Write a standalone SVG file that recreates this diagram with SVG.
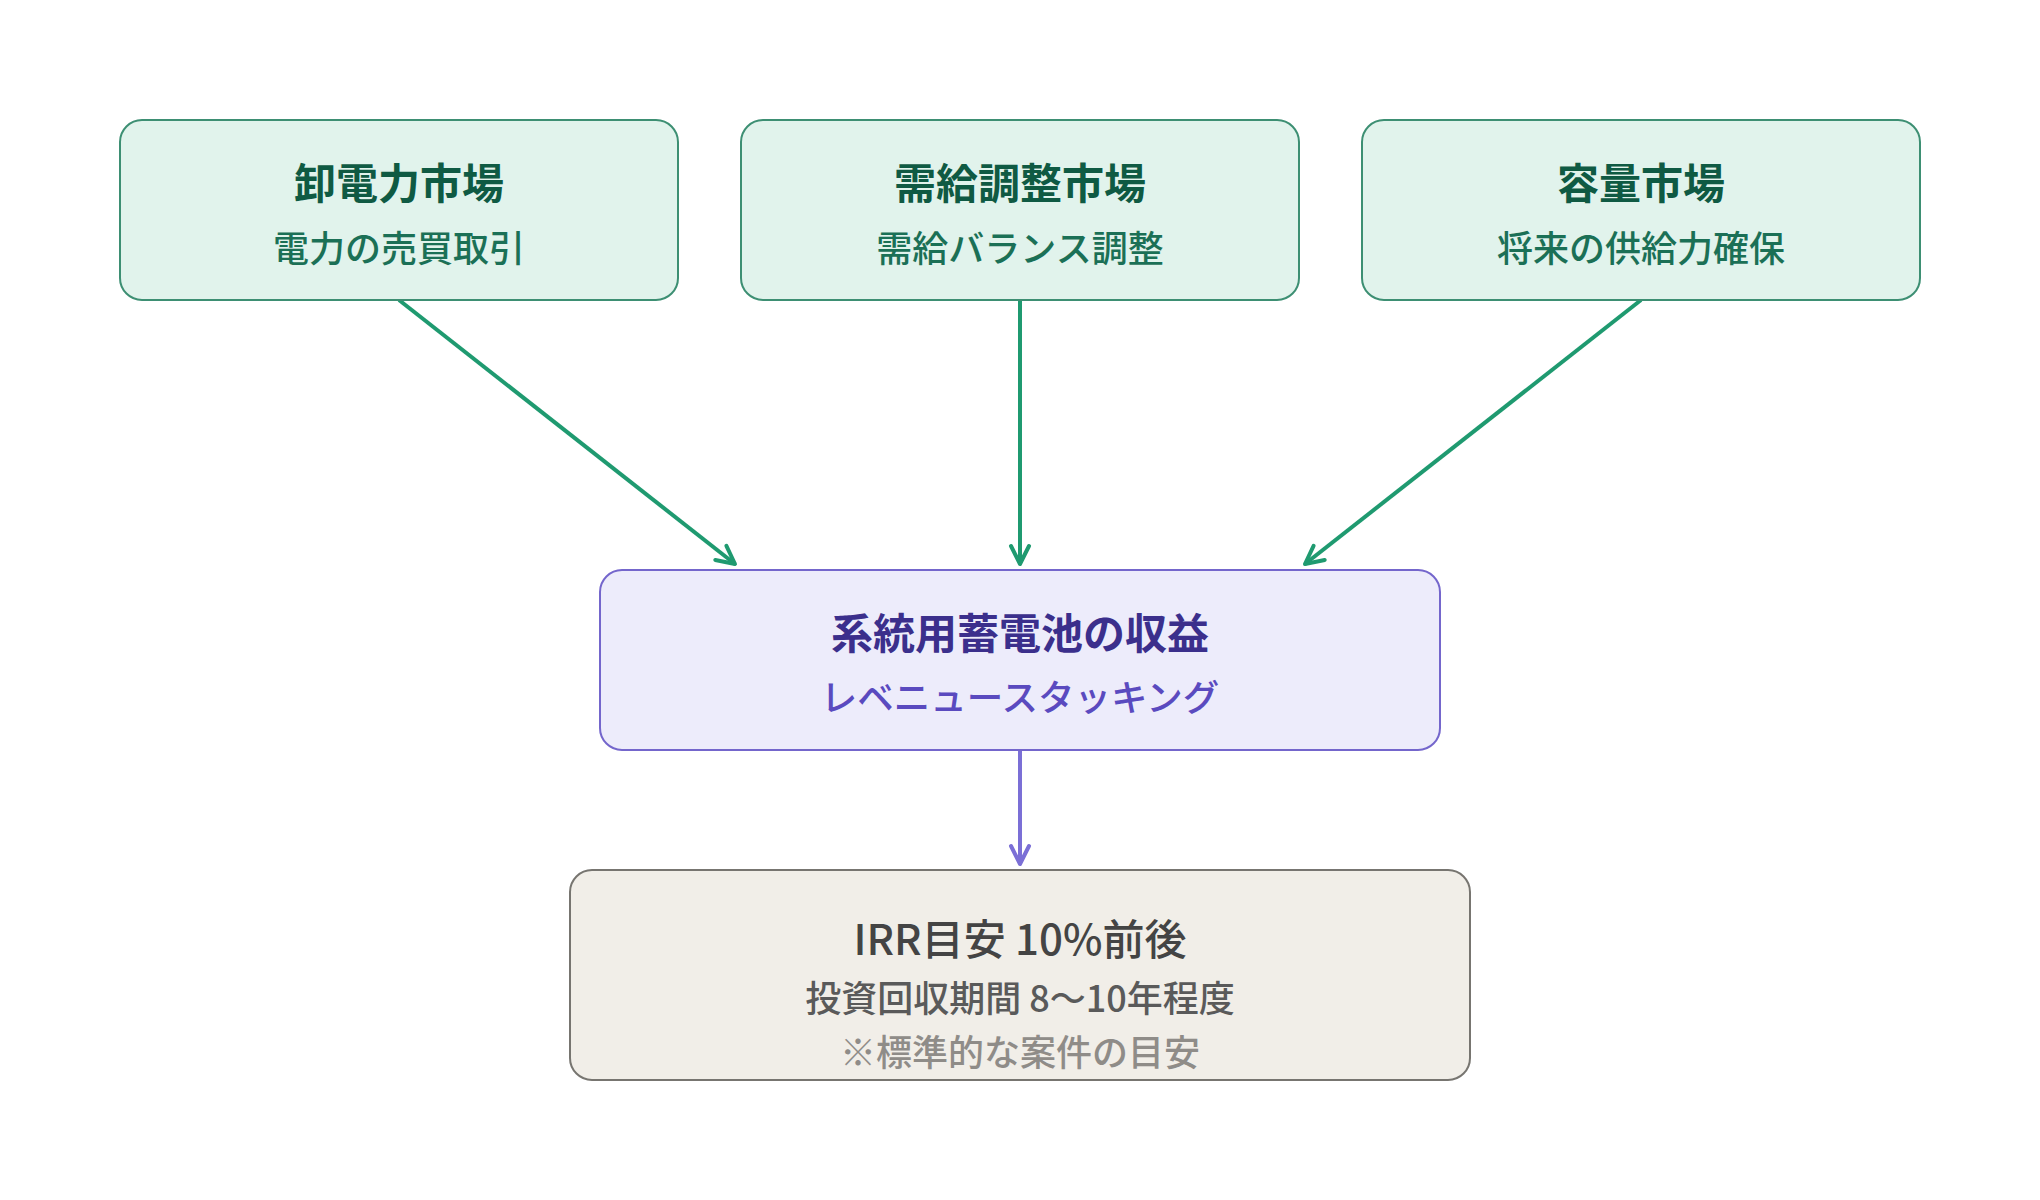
<svg xmlns="http://www.w3.org/2000/svg" width="2040" height="1200" viewBox="0 0 2040 1200">
<style>
text{font-family:"Noto Sans CJK JP","Noto Sans",sans-serif;text-anchor:middle;dominant-baseline:central}
.mk rect{fill:#e1f3ec;stroke:#3d8f73;stroke-width:2}
.mk .t{font-size:42px;font-weight:600;fill:#0f5a43}
.mk .s{font-size:36px;font-weight:500;fill:#1b7056}
#core rect{fill:#edecfb;stroke:#7466cc;stroke-width:2}
#core .t{font-size:42px;font-weight:600;fill:#3b2f8c}
#core .s{font-size:36.5px;font-weight:500;fill:#5a4abf}
#irr rect{fill:#f1eee8;stroke:#777570;stroke-width:2}
#irr .t{font-size:42px;font-weight:500;fill:#444}
#irr .s{font-size:36px;font-weight:500;fill:#5a5a5a}
#irr .n{font-size:36px;font-weight:500;fill:#8f8c88}
.cg{stroke:#1f9a70;stroke-width:4;fill:none}
.cp{stroke:#7b6fd6;stroke-width:4;fill:none}
</style>
<defs>
<marker id="ag" viewBox="0 0 24 24" refX="21" refY="12" markerWidth="24" markerHeight="24" markerUnits="userSpaceOnUse" orient="auto"><path d="M3,3 L21,12 L3,21" fill="none" stroke="#1f9a70" stroke-width="4" stroke-linecap="round" stroke-linejoin="round"/></marker>
<marker id="ap" viewBox="0 0 24 24" refX="21" refY="12" markerWidth="24" markerHeight="24" markerUnits="userSpaceOnUse" orient="auto"><path d="M3,3 L21,12 L3,21" fill="none" stroke="#7b6fd6" stroke-width="4" stroke-linecap="round" stroke-linejoin="round"/></marker>
</defs>
<rect width="2040" height="1200" fill="#fff"/>
<g id="connectors">
<line class="cg" x1="399" y1="300" x2="735" y2="564" marker-end="url(#ag)"/>
<line class="cg" x1="1020" y1="300" x2="1020" y2="564" marker-end="url(#ag)"/>
<line class="cg" x1="1641" y1="300" x2="1305" y2="564" marker-end="url(#ag)"/>
<line class="cp" x1="1020" y1="750" x2="1020" y2="864" marker-end="url(#ap)"/>
</g>
<g id="wholesale" class="mk">
<rect x="120" y="120" width="558" height="180" rx="22"/>
<text class="t" x="399" y="180">卸電力市場</text>
<text class="s" x="399" y="246">電力の売買取引</text>
</g>
<g id="balancing" class="mk">
<rect x="741" y="120" width="558" height="180" rx="22"/>
<text class="t" x="1020" y="180">需給調整市場</text>
<text class="s" x="1020" y="246">需給バランス調整</text>
</g>
<g id="capacity" class="mk">
<rect x="1362" y="120" width="558" height="180" rx="22"/>
<text class="t" x="1641" y="180">容量市場</text>
<text class="s" x="1641" y="246">将来の供給力確保</text>
</g>
<g id="core">
<rect x="600" y="570" width="840" height="180" rx="22"/>
<text class="t" x="1020" y="630">系統用蓄電池の収益</text>
<text class="s" x="1020" y="695">レベニュースタッキング</text>
</g>
<g id="irr">
<rect x="570" y="870" width="900" height="210" rx="22"/>
<text class="t" x="1020" y="936">IRR目安 10%前後</text>
<text class="s" x="1020" y="996">投資回収期間 8〜10年程度</text>
<text class="n" x="1020" y="1050">※標準的な案件の目安</text>
</g>
</svg>
